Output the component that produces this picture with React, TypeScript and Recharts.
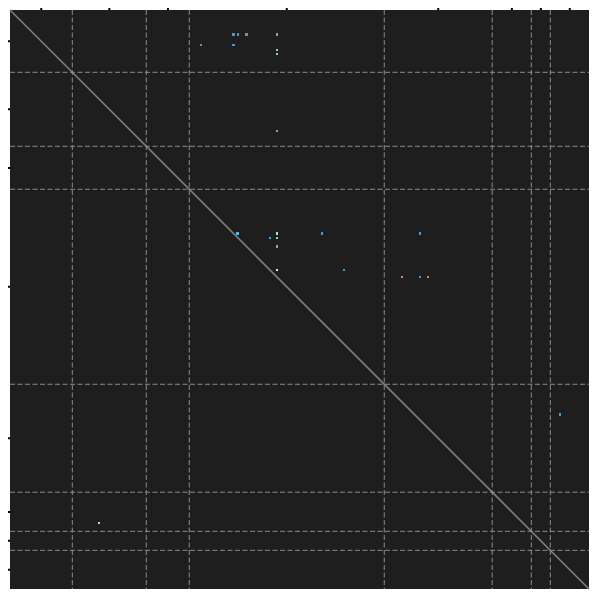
import {
  ReferenceArea,
  ReferenceLine,
  Scatter,
  ScatterChart,
  XAxis,
  YAxis,
} from "recharts";

// matrix size (cells per side)
const N = 250;

// group boundaries (in cell units) and the group-centre ticks
const boundaries = [26.9, 58.85, 77.4, 161.6, 208.2, 225.1, 233.3];
const groupTicks = [13.5, 42.9, 68.2, 119.5, 184.9, 216.7, 229.2, 241.7];

// off-diagonal non-zero cells: x = column, y = row, v = tone
type CellPoint = { x: number; y: number; v: string };

const cells: CellPoint[] = [
  { x: 96.5, y: 10.6, v: "neg" },
  { x: 98.4, y: 10.6, v: "neg" },
  { x: 102.1, y: 10.6, v: "neg" },
  { x: 115.3, y: 10.6, v: "mid" },
  { x: 82.5, y: 15.1, v: "neg" },
  { x: 96.5, y: 15.1, v: "neg" },
  { x: 115.3, y: 17.3, v: "light" },
  { x: 115.3, y: 19.0, v: "light" },
  { x: 115.3, y: 52.2, v: "mid" },
  { x: 98.2, y: 96.5, v: "mid" },
  { x: 115.3, y: 96.5, v: "pale" },
  { x: 134.7, y: 96.5, v: "neg" },
  { x: 177.0, y: 96.5, v: "neg" },
  { x: 112.3, y: 98.4, v: "neg" },
  { x: 115.3, y: 98.4, v: "light" },
  { x: 115.3, y: 102.1, v: "mid" },
  { x: 115.3, y: 112.3, v: "white" },
  { x: 144.2, y: 112.3, v: "neg" },
  { x: 169.3, y: 115.3, v: "pos" },
  { x: 177.0, y: 115.3, v: "neg" },
  { x: 180.5, y: 115.3, v: "pos" },
  { x: 237.5, y: 174.7, v: "neg" },
  { x: 38.4, y: 221.5, v: "pale" },
];

const toneColor: Record<string, string> = {
  neg: "#4a9ad2",
  mid: "#62b0da",
  light: "#86cbe0",
  pale: "#a6e2e8",
  white: "#c8f2e8",
  pos: "#ee7f4c",
};

const CELL = 579 / N;

const CellShape = (props: any) => {
  const { cx, cy, payload } = props;
  if (cx == null || cy == null) return null;
  return (
    <rect
      x={cx - CELL / 2}
      y={cy - CELL / 2}
      width={CELL}
      height={CELL}
      fill={toneColor[payload.v]}
      shapeRendering="crispEdges"
    />
  );
};

// tick marks only, no labels
const NoLabel = () => <g />;

export default function App() {
  return (
    <div style={{ margin: "-4px 0 0 -4px" }}>
      <ScatterChart
        width={595}
        height={595}
        margin={{ top: 4, right: 10, bottom: 10, left: 4 }}
      >
        <XAxis
          type="number"
          dataKey="x"
          orientation="top"
          domain={[0, N]}
          ticks={groupTicks}
          interval={0}
          height={2}
          tick={NoLabel}
          axisLine={false}
          stroke="#000"
          tickSize={4}
          tickLine={{ stroke: "#000", strokeWidth: 2 }}
          allowDataOverflow
        />
        <YAxis
          type="number"
          dataKey="y"
          domain={[0, N]}
          reversed
          ticks={groupTicks}
          interval={0}
          width={2}
          tick={NoLabel}
          axisLine={false}
          stroke="#000"
          tickSize={4}
          tickLine={{ stroke: "#000", strokeWidth: 2 }}
          allowDataOverflow
        />
        <ReferenceArea
          x1={0}
          x2={N}
          y1={0}
          y2={N}
          fill="#1e1e1e"
          fillOpacity={1}
          stroke="none"
        />
        <ReferenceLine
          segment={[
            { x: 0, y: 0 },
            { x: N, y: N },
          ]}
          stroke="#7e7e7e"
          strokeWidth={1.6}
        />
        {boundaries.map((b) => (
          <ReferenceLine
            key={`v${b}`}
            x={b}
            stroke="#8c8c8c"
            strokeWidth={1}
            strokeDasharray="5 2.5"
          />
        ))}
        {boundaries.map((b) => (
          <ReferenceLine
            key={`h${b}`}
            y={b}
            stroke="#8c8c8c"
            strokeWidth={1}
            strokeDasharray="5 2.5"
          />
        ))}
        <Scatter data={cells} shape={CellShape} isAnimationActive={false} />
      </ScatterChart>
    </div>
  );
}
